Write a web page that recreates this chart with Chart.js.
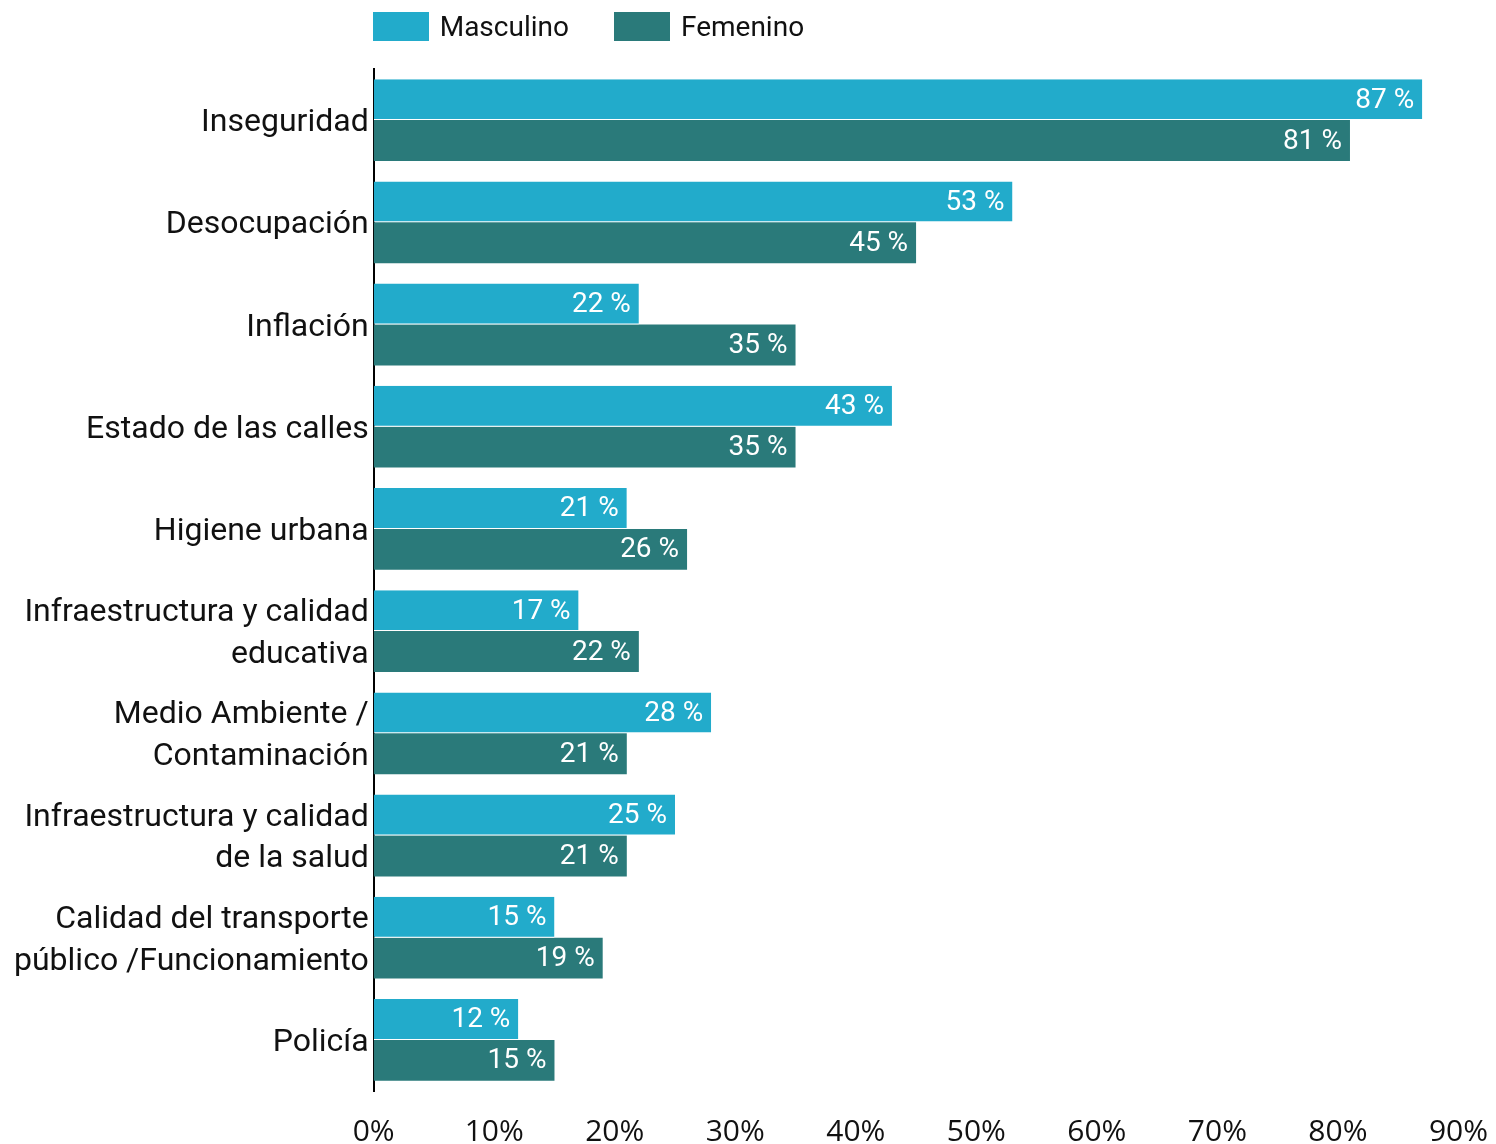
<!DOCTYPE html>
<html>
<head>
<meta charset="utf-8">
<script src="https://cdn.jsdelivr.net/npm/chart.js@4.4.1/dist/chart.umd.min.js"></script>
<style>
  body { margin: 0; background: #fff; overflow: hidden; }
  #wrap { position: relative; width: 1496px; height: 1144px; }
  #legend { position: absolute; top: 10px; display: flex; font: 28px Roboto, sans-serif; color: #111; }
  #legend .item { display: flex; align-items: center; margin-right: 45px; }
  #legend .box { width: 56px; height: 29px; margin-right: 11px; }
  canvas { display: block; }
</style>
</head>
<body>
<div id="wrap">
  <div id="legend"></div>
  <canvas id="myChart" width="1496" height="1144"></canvas>
</div>
<script>
const categories = [
  'Inseguridad',
  'Desocupación',
  'Inflación',
  'Estado de las calles',
  'Higiene urbana',
  ['Infraestructura y calidad', 'educativa'],
  ['Medio Ambiente /', 'Contaminación'],
  ['Infraestructura y calidad', 'de la salud'],
  ['Calidad del transporte', 'público /Funcionamiento'],
  'Policía'
];
const masculino = [87, 53, 22, 43, 21, 17, 28, 25, 15, 12];
const femenino = [81, 45, 35, 35, 26, 22, 21, 21, 19, 15];
const xTicks = [0, 10, 20, 30, 40, 50, 60, 70, 80, 90];

// white value labels inside the bar end
const valueLabels = {
  id: 'valueLabels',
  afterDatasetsDraw(chart) {
    const ctx = chart.ctx;
    ctx.save();
    ctx.font = '28px Roboto, sans-serif';
    ctx.fillStyle = '#fff';
    ctx.textAlign = 'right';
    ctx.textBaseline = 'middle';
    chart.data.datasets.forEach((ds, i) => {
      chart.getDatasetMeta(i).data.forEach((bar, j) => {
        ctx.fillText(ds.data[j] + ' %', bar.x - 8, bar.y + 1);
      });
    });
    ctx.restore();
  }
};

// html legend lined up with the plot area
const htmlLegend = {
  id: 'htmlLegend',
  afterRender(chart) {
    const el = document.getElementById('legend');
    if (el.childNodes.length) return;
    el.style.left = (chart.chartArea.left - 1) + 'px';
    chart.data.datasets.forEach(ds => {
      const item = document.createElement('div');
      item.className = 'item';
      const box = document.createElement('span');
      box.className = 'box';
      box.style.background = ds.backgroundColor;
      const txt = document.createElement('span');
      txt.textContent = ds.label;
      item.appendChild(box);
      item.appendChild(txt);
      el.appendChild(item);
    });
  }
};

const ctx = document.getElementById('myChart').getContext('2d');
const chart = new Chart(ctx, {
  type: 'bar',
  data: {
    labels: categories,
    datasets: [{
      label: 'Masculino',
      data: masculino,
      backgroundColor: '#22ABCB',
      borderColor: '#fff',
      borderWidth: { top: 0, left: 0, right: 0, bottom: 1 },
      borderSkipped: false
    }, {
      label: 'Femenino',
      data: femenino,
      backgroundColor: '#2A7A7A',
      borderWidth: 0
    }]
  },
  options: {
    indexAxis: 'y',
    responsive: false,
    animation: false,
    datasets: { bar: { categoryPercentage: 0.8, barPercentage: 1.0 } },
    // negative bottom padding: the tall tick line box pushes labels down
    layout: { padding: { top: 69, left: 9, right: 0, bottom: -29 } },
    scales: {
      x: {
        min: 0,
        max: 90,
        afterBuildTicks(axis) { axis.ticks = xTicks.map(v => ({ value: v })); },
        ticks: {
          callback: v => v + '%',
          font: { family: 'Open Sans', size: 30, lineHeight: 2.2 },
          color: '#111',
          padding: 8,
          maxRotation: 0
        },
        grid: { display: false, drawTicks: false },
        border: { display: false }
      },
      y: {
        grid: { display: false, drawTicks: false },
        border: { color: '#000', width: 2 },
        ticks: {
          font: { family: 'Roboto', size: 32, lineHeight: 1.31 },
          color: '#111',
          padding: 5,
          labelOffset: 3
        }
      }
    },
    plugins: {
      legend: { display: false },
      tooltip: { enabled: false }
    }
  },
  plugins: [valueLabels, htmlLegend]
});
</script>
</body>
</html>
